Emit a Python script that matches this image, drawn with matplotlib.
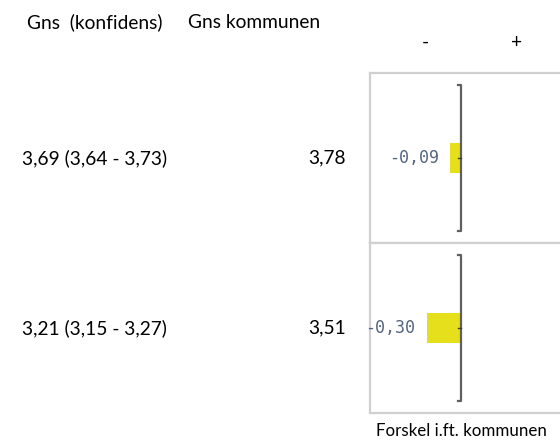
import matplotlib.pyplot as plt

# data
gns = [3.69, 3.21]
lo = [3.64, 3.15]
hi = [3.73, 3.27]
kommune = [3.78, 3.51]
forskel = [-0.09, -0.30]

W, H = 560, 441
fig = plt.figure(figsize=(W / 100, H / 100), dpi=100)
plt.rcParams['font.family'] = ['Lato', 'DejaVu Sans']
fs = 13.8

def fmt(v):
    return f"{v:.2f}".replace('.', ',')

# header
fig.text(27 / W, 1 - 22 / H, "Gns  (konfidens)", fontsize=fs, va='center', ha='left')
fig.text(188 / W, 1 - 22 / H, "Gns kommunen", fontsize=fs, va='center', ha='left')
fig.text(425 / W, 1 - 42 / H, "-", fontsize=fs, va='center', ha='center')
fig.text(517 / W, 1 - 42 / H, "+", fontsize=fs, va='center', ha='center')
fig.text(461 / W, 1 - 431 / H, "Forskel i.ft. kommunen", fontsize=12.2, va='center', ha='center')

box_left, box_top, panel_h = 370, 73, 170
for i in range(len(forskel)):
    yc = box_top + panel_h * i + panel_h / 2
    fig.text(22 / W, 1 - yc / H,
             f"{fmt(gns[i])} ({fmt(lo[i])} - {fmt(hi[i])})",
             fontsize=fs, va='center', ha='left')
    fig.text(346 / W, 1 - yc / H, fmt(kommune[i]),
             fontsize=fs, va='center', ha='right')

    top = box_top + panel_h * i
    ax = fig.add_axes([box_left / W, 1 - (top + panel_h) / H, 200 / W, panel_h / H])
    ax.set_xlim(-0.8, 0.965)
    ax.set_ylim(-0.5, 0.5)
    ax.barh(0, forskel[i], height=0.176, color='#e6e01c')
    # axis line with bracket ends
    ax.plot([-0.025, 0, 0, -0.025], [0.43, 0.43, -0.43, -0.43], color='#606060', lw=1.6)
    ax.plot([-0.02, 0], [0, 0], color='#404040', lw=1)
    ax.annotate(fmt(forskel[i]), (forskel[i], 0), xytext=(-8, 0),
                textcoords='offset points', ha='right', va='center',
                fontsize=12, color='#55657f', family='DejaVu Sans Mono')
    ax.set_xticks([])
    ax.set_yticks([])
    for s in ['left', 'top', 'bottom', 'right']:
        ax.spines[s].set_color('#d0d0d0')
        ax.spines[s].set_linewidth(1.6)

fig.savefig('out.png', dpi=100)
